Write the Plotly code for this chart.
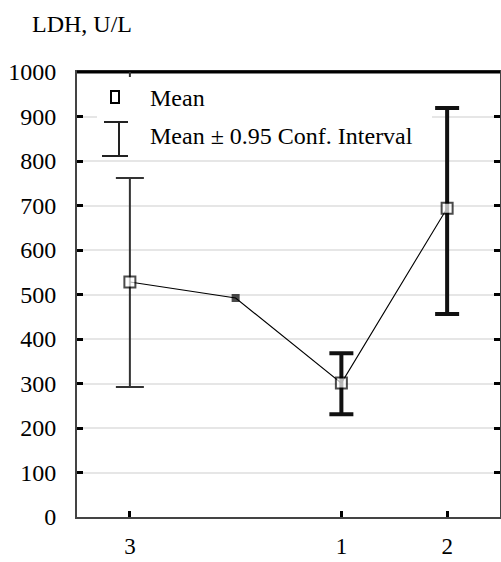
import plotly.graph_objects as go

# ---- data ----
groups = ["3", "", "1", "2"]          # middle group has no tick label
means = [528, 492, 301, 694]
ci_low = [292, 492, 231, 456]
ci_high = [762, 492, 368, 919]
y_ticks = [0, 100, 200, 300, 400, 500, 600, 700, 800, 900, 1000]
title_text = "LDH, U/L"
legend_mean = "Mean"
legend_ci = "Mean ± 0.95 Conf. Interval"

# ---- layout geometry (pixels) ----
W, H = 501, 562
ML, MR, MT, MB = 77, 1, 72, 45
PW, PH = W - ML - MR, H - MT - MB
FONT = "Liberation Serif"
FS = 24


def px(xp):
    return (xp - ML) / PW


def py(yp):
    return (H - MB - yp) / PH


idx = list(range(len(groups)))
fig = go.Figure()

# error bars (one trace per group so thickness can differ)
err_style = {0: dict(thickness=2, color="#333333", width=14),
             2: dict(thickness=4, color="#111111", width=12),
             3: dict(thickness=4, color="#111111", width=12)}
for i in idx:
    if ci_high[i] == ci_low[i]:
        continue
    st = err_style.get(i, dict(thickness=3, color="#111111", width=12))
    fig.add_trace(go.Scatter(
        x=[idx[i]], y=[means[i]], mode="markers",
        marker=dict(size=1, color="rgba(0,0,0,0)"),
        error_y=dict(type="data", symmetric=False,
                     array=[ci_high[i] - means[i]],
                     arrayminus=[means[i] - ci_low[i]],
                     thickness=st["thickness"], color=st["color"], width=st["width"]),
        showlegend=False, hoverinfo="skip"))

# mean line + markers
mcol = ["white" if ci_high[i] != ci_low[i] else "black" for i in idx]
msize = [11 if ci_high[i] != ci_low[i] else 6 for i in idx]
fig.add_trace(go.Scatter(
    x=idx, y=means, mode="lines+markers",
    line=dict(color="black", width=1.1),
    marker=dict(symbol="square", size=msize, color=mcol, line=dict(color="black", width=2)),
    showlegend=False))

tickvals = [i for i in idx if groups[i] != ""]
ticktext = [groups[i] for i in tickvals]

fig.update_layout(
    width=W, height=H,
    margin=dict(l=ML, r=MR, t=MT, b=MB),
    paper_bgcolor="white", plot_bgcolor="white",
    font=dict(family=FONT, size=FS, color="black"),
    showlegend=False,
    xaxis=dict(range=[-0.5, len(groups) - 0.5], tickvals=tickvals, ticktext=ticktext,
               ticks="inside", ticklen=6, tickwidth=3, tickcolor="black",
               showline=True, linecolor="#444444", linewidth=2, mirror=True,
               showgrid=False, zeroline=False, ticklabelstandoff=7, automargin=False,
               tickfont=dict(family=FONT, size=23)),
    yaxis=dict(range=[0, 1000], tickvals=y_ticks,
               ticks="inside", ticklen=6, tickwidth=3, tickcolor="black",
               showline=True, linecolor="#444444", linewidth=2, mirror="ticks",
               showgrid=True, gridcolor="#e6e6e6", gridwidth=2, zeroline=False,
               ticklabelstandoff=14, automargin=False, tickfont=dict(family=FONT, size=FS)),
)

shapes = []
# thick top border
shapes.append(dict(type="line", xref="paper", yref="paper", x0=0, x1=1, y0=1, y1=1,
                   line=dict(color="black", width=3), layer="above"))
# top mirror tick at first category
shapes.append(dict(type="line", xref="x", yref="paper", x0=idx[0], x1=idx[0],
                   y0=1, y1=py(MT + 7), line=dict(color="#333333", width=2), layer="above"))
# legend background
shapes.append(dict(type="rect", xref="paper", yref="paper",
                   x0=px(97), x1=px(432), y0=py(150), y1=py(77),
                   fillcolor="white", line=dict(width=0), layer="above"))
# legend mean icon
shapes.append(dict(type="rect", xref="paper", yref="paper",
                   x0=px(111), x1=px(119), y0=py(103), y1=py(91),
                   fillcolor="white", line=dict(color="black", width=2), layer="above"))
# legend CI icon
for (x0, y0, x1, y1) in [(119, 122, 119, 156), (104, 122, 128, 122), (102, 156, 128, 156)]:
    shapes.append(dict(type="line", xref="paper", yref="paper",
                       x0=px(x0), x1=px(x1), y0=py(y0), y1=py(y1),
                       line=dict(color="#222222", width=2), layer="above"))
fig.update_layout(shapes=shapes)

annotations = [
    dict(text=title_text, xref="paper", yref="paper", x=px(30), y=py(24),
         xanchor="left", yanchor="middle", showarrow=False,
         font=dict(family=FONT, size=FS, color="black")),
    dict(text=legend_mean, xref="paper", yref="paper", x=px(148), y=py(98),
         xanchor="left", yanchor="middle", showarrow=False,
         font=dict(family=FONT, size=FS, color="black")),
    dict(text=legend_ci, xref="paper", yref="paper", x=px(148), y=py(136),
         xanchor="left", yanchor="middle", showarrow=False,
         font=dict(family=FONT, size=FS, color="black")),
]
fig.update_layout(annotations=annotations)

fig.write_html("out.html")
